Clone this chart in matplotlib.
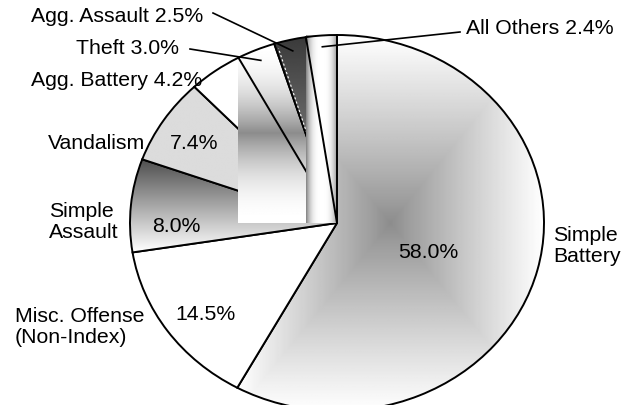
import numpy as np
import matplotlib.pyplot as plt

# Data (clockwise from 12 o'clock)
labels = ['Simple\nBattery', 'Misc. Offense\n(Non-Index)', 'Simple\nAssault', 'Vandalism',
          'Agg. Battery', 'Theft', 'Agg. Assault', 'All Others']
shares = [58.0, 14.5, 8.0, 7.4, 4.2, 3.0, 2.5, 2.4]

plt.rcParams['font.family'] = ['Liberation Sans', 'DejaVu Sans']
FS = 15.3

W, H = 621, 406
fig = plt.figure(figsize=(W / 100, H / 100), dpi=100)

# the pie is a slightly tall ellipse, so give it its own stretched axes
cx, cy, rx, ry = 337, 224, 207, 188
ax = fig.add_axes([(cx - rx) / W, (H - cy - ry) / H, 2 * rx / W, 2 * ry / H])
ax.set_axis_off()

wedges, _ = ax.pie(shares, startangle=90, counterclock=False, radius=1,
                   wedgeprops=dict(facecolor='none', edgecolor='black', linewidth=1.4))


def gradient(kind, n=256):
    u = np.linspace(-1, 1, n)
    U, V = np.meshgrid(u, u)  # V = +1 at the top (origin='lower')
    if kind == 'box':
        return 0.55 + 0.45 * np.maximum(np.abs(U), np.abs(V)) ** 0.9
    if kind == 'vlin':
        return 0.3 + 0.7 * (1 - V) / 2
    if kind == 'vsym':
        return 1 - 0.45 * (1 - np.abs(V)) ** 2
    if kind == 'hsym':
        return 1 - 0.5 * np.abs(U) ** 3
    if kind == 'dark':
        return 0.415 - 0.185 * V
    if kind == 'light':
        return np.full_like(U, 0.86)
    return np.ones_like(U)


# fill style per wedge; "rect" ones spill over their bounding box like the original
fills = [('box', True), ('white', True), ('vlin', True), ('light', True),
         ('white', True), ('vsym', False), ('dark', True), ('hsym', False)]

for i, (w, (kind, clip)) in enumerate(zip(wedges, fills)):
    ext = w.get_path().get_extents()
    im = ax.imshow(gradient(kind), cmap='gray', vmin=0, vmax=1, origin='lower',
                   extent=(ext.x0, ext.x1, ext.y0, ext.y1), aspect='auto',
                   interpolation='bilinear', zorder=2 * i + 1)
    if clip:
        im.set_clip_path(w)
    w.set_zorder(2 * i + 2)

# white dashed seam along the Agg. Assault edge
t = np.deg2rad(wedges[6].theta2 - 0.7)
rr = np.array([0.5, 0.97])
ax.plot(rr * np.cos(t), rr * np.sin(t), color='white', lw=0.8, ls=(0, (2, 2)), zorder=14)

ax.set_xlim(-1, 1)
ax.set_ylim(-1, 1)

# overlay axes in pixel coordinates for labels
ax_t = fig.add_axes([0, 0, 1, 1], zorder=5)
ax_t.set_xlim(0, W)
ax_t.set_ylim(H, 0)
ax_t.set_axis_off()
ax_t.patch.set_alpha(0)


def to_px(x, y):
    return ax_t.transData.inverted().transform(ax.transData.transform((x, y)))


pct = [f'{s:.1f}%' for s in shares]
kw = dict(fontsize=FS, va='center', ha='left', linespacing=1.15)

# category names with inner percentages
ax_t.text(553, 246, labels[0], **kw)
ax_t.text(398, 253, pct[0], **kw)
ax_t.text(15, 327, labels[1], **kw)
ax_t.text(175, 315, pct[1], **kw)
ax_t.text(49, 222, labels[2], **kw)
ax_t.text(152, 227, pct[2], **kw)
ax_t.text(48, 144, labels[3], **kw)
ax_t.text(170, 144, pct[3], **kw)

# outside labels for the small slices
ax_t.text(31, 80, f'{labels[4]} {pct[4]}', **kw)
outside = [(5, (76, 49), (190, 50)), (6, (31, 17), (213, 14)), (7, (466, 28), (460, 33))]
for i, (tx, ty), (lx, ly) in outside:
    ax_t.text(tx, ty, f'{labels[i]} {pct[i]}', **kw)
    w = wedges[i]
    mid = np.deg2rad((w.theta1 + w.theta2) / 2)
    ex, ey = to_px(0.94 * np.cos(mid), 0.94 * np.sin(mid))
    ax_t.plot([lx, ex], [ly, ey], color='black', lw=1.2)

fig.savefig('out.png', dpi=100)
